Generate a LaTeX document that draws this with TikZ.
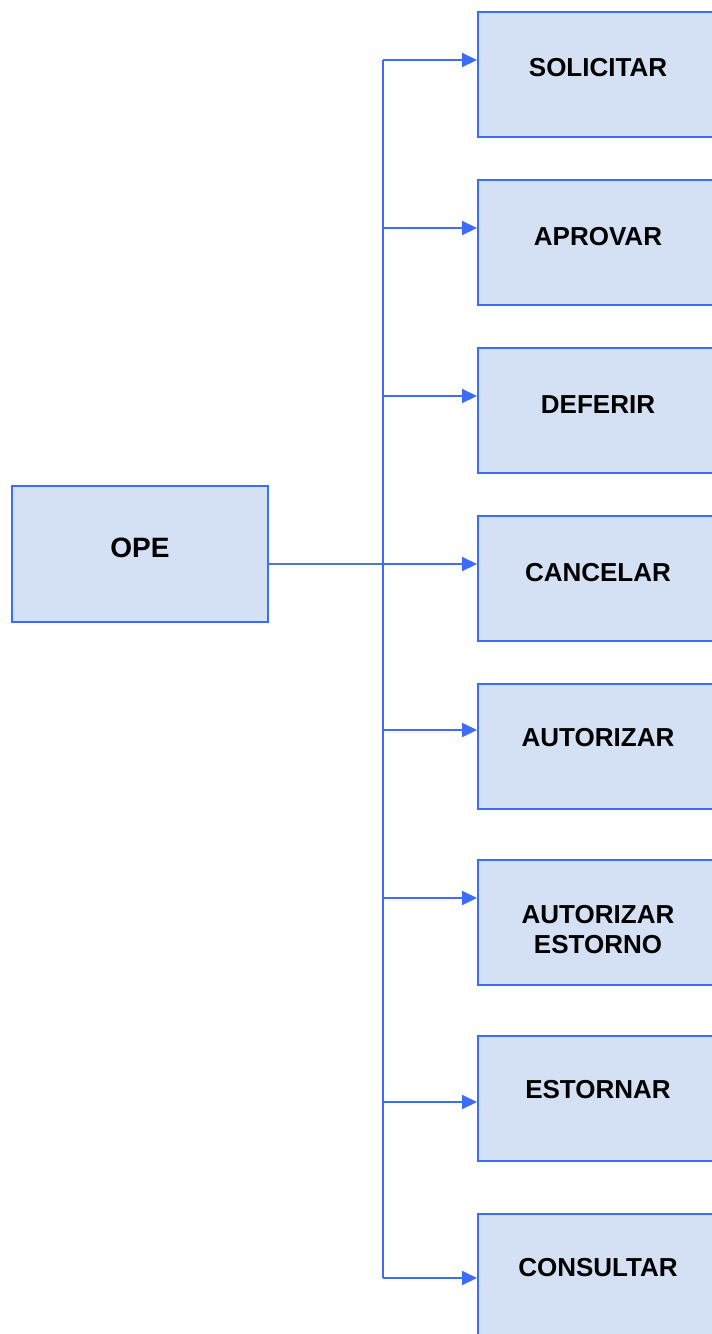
\documentclass[tikz,border=0pt]{standalone}
\usepackage{fontspec}
\setmainfont{Liberation Sans}
\usepackage{tikz}
\usetikzlibrary{arrows.meta,positioning}

\definecolor{boxline}{RGB}{61,107,250}
\definecolor{boxfill}{RGB}{212,224,244}
\definecolor{linkline}{RGB}{74,126,187}

\begin{document}
\begin{tikzpicture}[x=1pt,y=-1pt]
		\tikzstyle{box}=[draw=boxline, fill=boxfill, line width=2pt, inner sep=0, minimum width=236pt, minimum height=125pt]
		\tikzstyle{txt}=[font=\fontsize{26}{30}\selectfont\bfseries, align=center, inner sep=0]
		\tikzstyle{arr}=[draw=boxline, line width=2pt, -{Triangle[length=15pt,width=14pt]}]
		\useasboundingbox (0,0) rectangle (712,1334);
		
		% Source
		\node[box, minimum width=256pt, minimum height=136pt] at (140,554) (ope) {};
		\node[txt, font=\fontsize{28}{32}\selectfont\bfseries] at (140,548) (ope_t) {OPE};
		
		% Targets
		\foreach \i/\yb/\yt/\ya/\t in {1/74/68/60/SOLICITAR, 2/242/237/228/APROVAR, 3/410/405/396/DEFERIR, 4/578/573/564/CANCELAR, 5/746/738/730/AUTORIZAR, 6/922/930/898/{AUTORIZAR\\ESTORNO}, 7/1098/1090/1102/ESTORNAR, 8/1276/1268/1278/CONSULTAR}
		{
		\node[box] at (596,\yb) (b\i) {};
		\node[txt] at (598,\yt) (t\i) {\t};
		\coordinate (j\i) at (383,\ya);
		}
		
		% Bus
		\coordinate (bus) at (383,564);
		\draw[linkline, line width=1.5pt] (ope.east |- bus) -- (bus);
		\draw[boxline, line width=2pt] (j1) -- (j8);
		
		% Bus -> Targets
		\foreach \i in {1,...,8}
		\draw[arr] (j\i) -- (j\i -| b\i.west);
\end{tikzpicture}
\end{document}
